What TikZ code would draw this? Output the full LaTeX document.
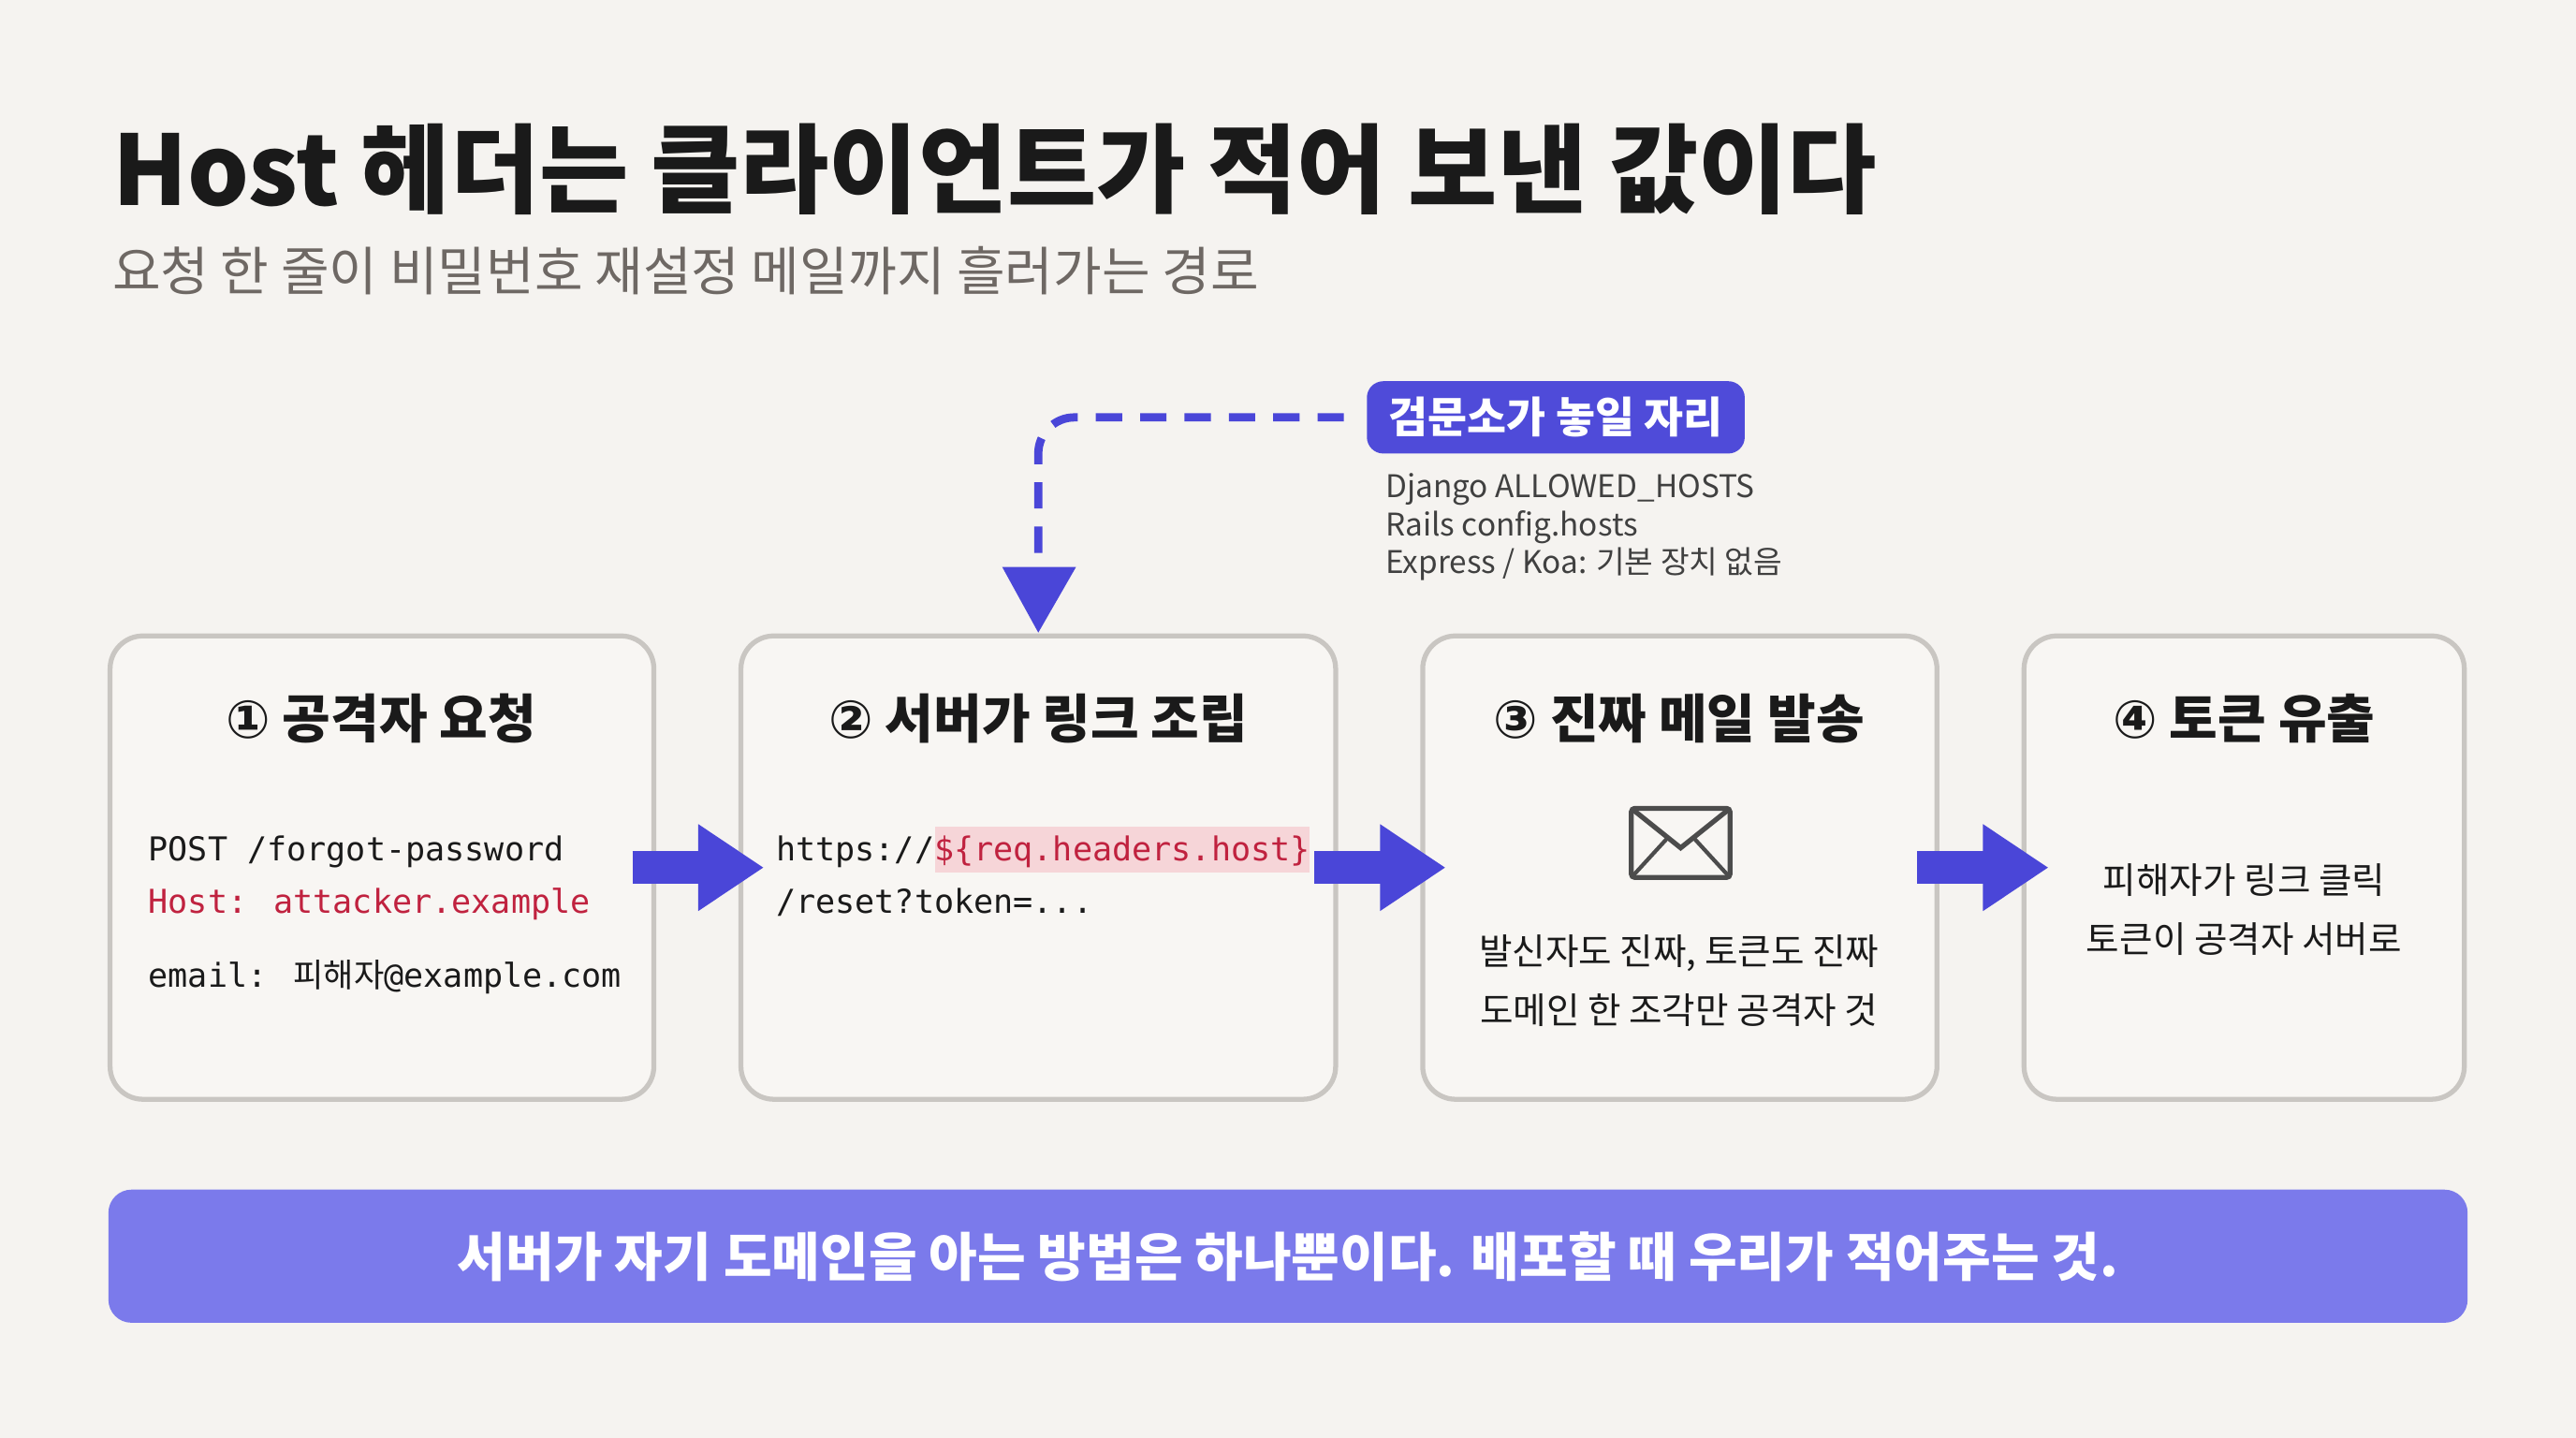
\documentclass[tikz,border=0pt]{standalone}
\usepackage{fontspec}
\setmainfont{Noto Sans CJK KR}
\newfontfamily\kr{Noto Sans CJK KR}
\newfontfamily\mono{DejaVu Sans Mono}
\newfontfamily\sym{DejaVu Sans}
\usetikzlibrary{arrows.meta}
\definecolor{bg}{HTML}{F5F3F0}
\definecolor{boxfill}{HTML}{F8F6F3}
\definecolor{boxline}{HTML}{C9C6C2}
\definecolor{blu}{HTML}{4A46D8}
\definecolor{lbl}{HTML}{4F4BD9}
\definecolor{bar}{HTML}{7B7AEB}
\definecolor{red}{HTML}{C0223F}
\definecolor{pink}{HTML}{F6D5D8}
\definecolor{ink}{HTML}{1A1A1A}
\definecolor{sub}{HTML}{6E6864}
\begin{document}
\begin{tikzpicture}[x=0.5pt,y=-0.5pt,
  card/.style={draw=boxline,line width=1.5pt,fill=boxfill,rounded corners=10pt},
  ctitle/.style={font=\kr\bfseries\fontsize{16}{19}\selectfont,text=ink},
  code/.style={font=\mono\fontsize{10}{12}\selectfont,text=ink,anchor=base west,inner sep=0},
  body/.style={font=\kr\fontsize{11}{13}\selectfont,text=ink,anchor=base,inner sep=0},
  note/.style={font=\kr\fontsize{9.5}{11}\selectfont,text=black!75,anchor=base west,inner sep=0},
  big/.style={blu,line width=10pt,-{Triangle[length=20pt,width=25pt]}}]
\fill[bg] (0,0) rectangle (1568,875);
\node[anchor=base west,inner sep=0,font=\kr\bfseries\fontsize{29.5}{36}\selectfont,text=ink] (title) at (68,125) {Host 헤더는 클라이언트가 적어 보낸 값이다};
\node[anchor=base west,inner sep=0,font=\kr\fontsize{16}{19}\selectfont,text=sub] (subt) at (68,177) {요청 한 줄이 비밀번호 재설정 메일까지 흘러가는 경로};
% cards
\draw[card] (67,387) rectangle (398,669);
\draw[card] (451,387) rectangle (813,669);
\draw[card] (866,387) rectangle (1179,669);
\draw[card] (1232,387) rectangle (1500,669);
\node[ctitle] (t1) at (232,437) {{\sym ①} 공격자 요청};
\node[ctitle] (t2) at (632,437) {{\sym ②} 서버가 링크 조립};
\node[ctitle] (t3) at (1022,437) {{\sym ③} 진짜 메일 발송};
\node[ctitle] (t4) at (1366,437) {{\sym ④} 토큰 유출};
% box1
\node[code] (c1) at (90,524) {POST /forgot-password};
\node[code,text=red] (c2) at (90,556) {Host: attacker.example};
\node[code] (c3) at (90,601) {email: {\kr 피해자}@example.com};
% box2
\fill[pink] (569,503) rectangle (797,531);
\node[code] (c4) at (472,524) {https://\textcolor{red}{\$\{req.headers.host\}}};
\node[code] (c5) at (472,556) {/reset?token=...};
% box3 envelope
\draw[black!70,line width=1.5pt,rounded corners=1pt] (993,492) rectangle (1053,534);
\draw[black!70,line width=1.5pt] (993,492) -- (1023,516) -- (1053,492);
\draw[black!70,line width=1.2pt] (993,534) -- (1015,510) (1053,534) -- (1031,510);
\node[body] (b3a) at (1022,587) {발신자도 진짜, 토큰도 진짜};
\node[body] (b3b) at (1022,623) {도메인 한 조각만 공격자 것};
\node[body] (b4a) at (1366,544) {피해자가 링크 클릭};
\node[body] (b4b) at (1366,580) {토큰이 공격자 서버로};
% arrows
\coordinate (a1s) at (385,528); \coordinate (a1e) at (465,528);
\coordinate (a2s) at (800,528); \coordinate (a2e) at (880,528);
\coordinate (a3s) at (1167,528); \coordinate (a3e) at (1247,528);
\draw[big] (a1s) -- (a1e);
\draw[big] (a2s) -- (a2e);
\draw[big] (a3s) -- (a3e);
% checkpoint label
\node[fill=lbl,rounded corners=5pt,text=white,font=\kr\bfseries\fontsize{13}{15}\selectfont,minimum width=115pt,minimum height=22pt,inner sep=0] (gate) at (947,254) {검문소가 놓일 자리};
\coordinate (dtip) at (632,385);
\draw[blu,line width=2.5pt,dash pattern=on 8pt off 5.5pt,rounded corners=11pt] (818,254) -- (632,254) -- (632,348);
\fill[blu] (610,345) -- (655,345) -- (dtip) -- cycle;
\node[note] (n1) at (843,303) {Django ALLOWED\_HOSTS};
\node[note] (n2) at (843,326) {Rails config.hosts};
\node[note] (n3) at (843,349) {Express / Koa: 기본 장치 없음};
% bottom bar
\fill[bar,rounded corners=7pt] (66,724) rectangle (1502,805);
\node[text=white,font=\kr\bfseries\fontsize{16}{19}\selectfont] (msg) at (784,765) {서버가 자기 도메인을 아는 방법은 하나뿐이다. 배포할 때 우리가 적어주는 것.};
\end{tikzpicture}
\end{document}
